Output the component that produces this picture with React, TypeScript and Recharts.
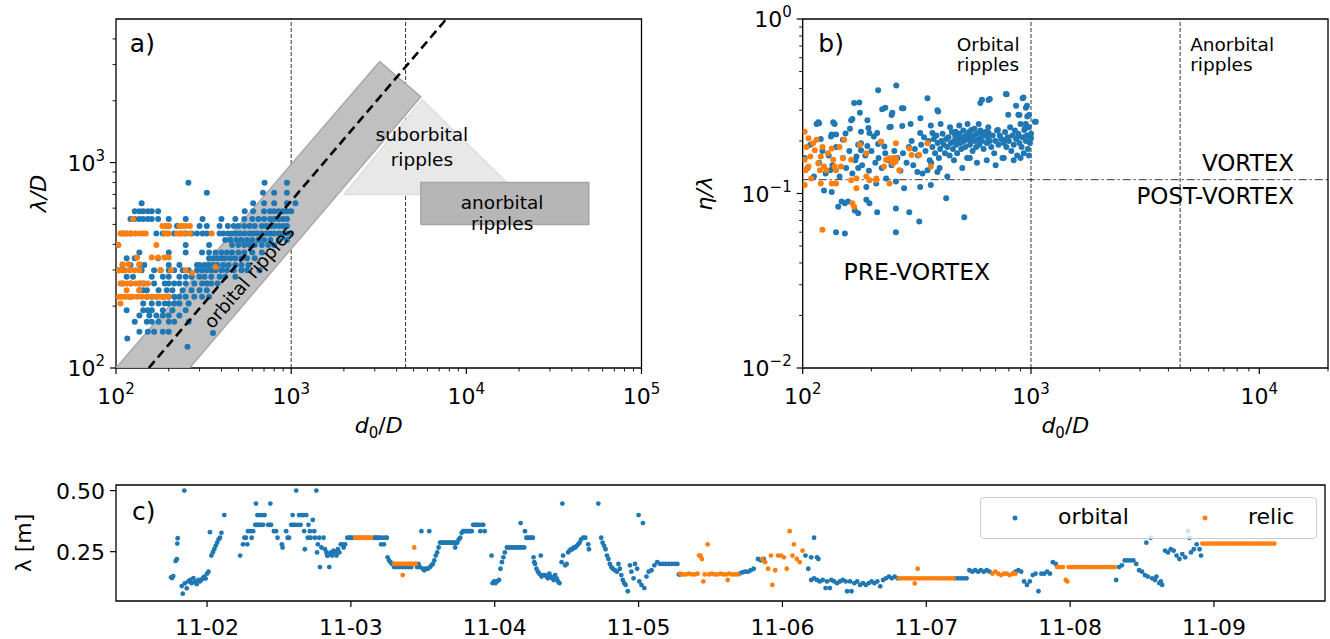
import React from 'react';
import { ScatterChart, Scatter, XAxis, YAxis, ReferenceLine, ReferenceArea, Legend } from 'recharts';

const FONT = '"DejaVu Sans", sans-serif';
const BLUE = '#1f77b4';
const ORANGE = '#ff7f0e';
const INK = '#000000';
const TICK_FONT = 22;
const SUP_FONT = 15;

// ---------------- Panel a: lambda/D vs d0/D ----------------
const aOrbital: [number, number][] = [
  [259, 798], [705, 798], [946, 798],
  [330, 714], [690, 714], [800, 714], [946, 714],
  [140, 634], [607, 634], [700, 634], [800, 634], [946, 634], [1057, 634],
  [128, 580], [136, 580], [143, 580], [152, 580], [160, 580], [174, 580], [543, 580], [607, 580], [700, 580], [758, 580], [800, 580], [850, 580], [900, 580], [946, 580], [1000, 580],
  [121, 531], [128, 531], [136, 531], [143, 531], [152, 531], [160, 531], [174, 531], [200, 531], [250, 531], [312, 531], [400, 531], [480, 531], [540, 531], [600, 531], [650, 531], [700, 531], [758, 531], [800, 531], [850, 531], [900, 531], [946, 531],
  [200, 491], [223, 491], [300, 491], [330, 491], [390, 491], [435, 491], [470, 491], [500, 491], [540, 491], [580, 491], [620, 491], [680, 491], [720, 491], [760, 491], [800, 491], [850, 491], [900, 491], [946, 491],
  [109, 452], [115, 452], [121, 452], [170, 452], [185, 452], [215, 452], [235, 452], [250, 452], [270, 452], [290, 452], [312, 452], [330, 452], [390, 452], [410, 452], [435, 452], [460, 452], [486, 452], [510, 452], [543, 452], [580, 452], [607, 452], [640, 452], [678, 452], [720, 452], [760, 452], [800, 452], [850, 452], [900, 452], [946, 452], [1000, 452],
  [420, 420], [450, 420], [486, 420], [520, 420], [560, 420], [600, 420], [650, 420], [700, 420], [760, 420], [850, 420], [946, 420],
  [103, 397], [250, 397], [340, 397], [460, 397], [500, 397], [540, 397], [580, 397], [620, 397], [680, 397], [740, 397], [800, 397],
  [136, 365], [200, 365], [250, 365], [310, 365], [340, 365], [370, 365], [400, 365], [430, 365], [460, 365], [500, 365], [540, 365], [600, 365], [680, 365],
  [115, 342], [128, 342], [174, 342], [340, 342], [360, 342], [380, 342], [400, 342], [420, 342], [450, 342], [480, 342], [520, 342], [560, 342], [620, 342],
  [109, 317], [121, 317], [136, 317], [145, 317], [200, 317], [230, 317], [290, 317], [300, 317], [320, 317], [340, 317], [360, 317], [380, 317], [410, 317], [440, 317], [480, 317], [520, 317], [570, 317],
  [103, 299], [109, 299], [140, 299], [165, 299], [180, 299], [200, 299], [215, 299], [240, 299], [260, 299], [290, 299], [310, 299], [330, 299], [350, 299], [370, 299], [400, 299], [430, 299], [470, 299], [520, 299], [560, 299], [660, 299],
  [115, 278], [125, 278], [160, 278], [185, 278], [200, 278], [230, 278], [250, 278], [270, 278], [300, 278], [320, 278], [350, 278], [390, 278], [420, 278], [480, 278],
  [109, 258], [121, 258], [136, 258], [143, 258], [165, 258], [190, 258], [200, 258], [215, 258], [230, 258], [250, 258], [280, 258], [310, 258], [330, 258], [350, 258], [380, 258],
  [136, 239], [143, 239], [150, 239], [175, 239], [195, 239], [210, 239], [240, 239], [270, 239], [300, 239], [330, 239],
  [121, 222], [150, 222], [160, 222], [170, 222], [185, 222], [200, 222], [215, 222], [230, 222], [250, 222], [280, 222], [310, 222], [340, 222],
  [143, 206], [160, 206], [175, 206], [190, 206], [200, 206], [215, 206], [230, 206], [260, 206],
  [115, 191], [143, 191], [152, 191], [160, 191], [185, 191], [210, 191], [250, 191],
  [136, 180], [155, 180], [170, 180], [185, 180], [200, 180], [230, 180],
  [128, 168], [150, 168], [160, 168], [175, 168], [200, 168], [215, 168], [260, 168],
  [136, 150], [152, 150], [165, 150], [185, 150], [200, 150], [358, 148],
  [116, 139], [256, 127],
];

const aRelic: [number, number][] = [
  [125, 531],
  [184, 491], [192, 491], [200, 491], [230, 491], [240, 491], [250, 491], [264, 491],
  [106, 452], [110, 452], [115, 452], [121, 452], [128, 452], [136, 452], [143, 452], [148, 452], [189, 452], [195, 452], [200, 452], [223, 452], [232, 452], [245, 452], [264, 452], [352, 452],
  [103, 397], [170, 397],
  [132, 345], [160, 345], [174, 345], [189, 345], [200, 345],
  [109, 320], [118, 320], [136, 320], [370, 310],
  [104, 299], [108, 299], [113, 299], [120, 299], [128, 299], [136, 299], [179, 299], [206, 299], [250, 299], [272, 290],
  [106, 258], [110, 258], [115, 258], [122, 258], [130, 258], [138, 258], [145, 258], [152, 258],
  [115, 239], [136, 239],
  [104, 222], [108, 222], [112, 222], [118, 222], [124, 222], [132, 222], [140, 222], [150, 222], [160, 222], [170, 222], [180, 222], [190, 222], [200, 222],
  [106, 206],
];

// regime shapes (vertices, d0/D, lambda/D)
const aSuborbitalZone: [number, number][] = [[2000, 700], [5600, 2020], [20000, 700], [2000, 700]];
const aOrbitalZone: [number, number][] = [[100, 100], [3200, 3100], [5500, 2090], [263, 100], [100, 100]];
const aAnorbitalZone: [number, number][] = [[5500, 500], [5500, 800], [50000, 800], [50000, 500], [5500, 500]];
const aFit: [number, number][] = [[153.8, 100], [7692, 5000]];
const aLimits = [1000, 4500];

const aNotes = [
  { text: 'a)', x: 120, y: 3450, kind: 'panel' },
  { text: 'suborbital', x: 5580, y: 1270, kind: 'mid' },
  { text: 'ripples', x: 5580, y: 965, kind: 'mid' },
  { text: 'anorbital', x: 16000, y: 595, kind: 'mid' },
  { text: 'ripples', x: 16000, y: 468, kind: 'mid' },
  { text: 'orbital ripples', x: 574, y: 278, kind: 'rot' },
];

const aXTicks = [100, 200, 300, 400, 500, 600, 700, 800, 900, 1000, 2000, 3000, 4000, 5000, 6000, 7000, 8000, 9000, 10000, 20000, 30000, 40000, 50000, 60000, 70000, 80000, 90000, 100000];
const aYTicks = [100, 200, 300, 400, 500, 600, 700, 800, 900, 1000, 2000, 3000, 4000];

// ---------------- Panel b: eta/lambda vs d0/D ----------------
const bOrbital: [number, number][] = [
  [214, 0.39], [257, 0.416], [352, 0.352], [177, 0.332], [223, 0.304], [245, 0.282], [276, 0.308], [392, 0.295],
  [610, 0.345], [660, 0.348], [782, 0.37], [927, 0.355], [960, 0.318], [860, 0.318], [890, 0.282], [980, 0.282], [1050, 0.258],
  [118, 0.253], [136, 0.256], [165, 0.267], [194, 0.237], [243, 0.241], [273, 0.244], [328, 0.27], [192, 0.187], [172, 0.163],
  [180, 0.194], [214, 0.192], [228, 0.186], [154, 0.221], [133, 0.212], [120, 0.205],
  [168, 0.33], [230, 0.31], [247, 0.29], [272, 0.308], [389, 0.30], [600, 0.33], [652, 0.343], [776, 0.372], [919, 0.352],
  [950, 0.31], [881, 0.283], [795, 0.283], [963, 0.276], [1040, 0.258], [115, 0.25], [117, 0.256], [138, 0.25], [178, 0.29],
  [163, 0.263], [192, 0.263], [134, 0.218], [140, 0.218], [150, 0.203], [161, 0.235], [180, 0.226], [180, 0.177], [196, 0.222],
  [205, 0.212], [212, 0.222], [220, 0.198], [240, 0.24], [297, 0.25], [327, 0.222], [370, 0.222], [364, 0.245], [402, 0.25],
  [442, 0.24], [468, 0.226], [485, 0.245], [527, 0.25], [590, 0.25], [547, 0.231], [612, 0.218], [652, 0.222], [716, 0.231],
  [776, 0.203], [881, 0.212], [935, 0.231], [950, 0.25], [1000, 0.207],
  [124, 0.104], [134, 0.102], [143, 0.084], [148, 0.09], [153, 0.088], [158, 0.09], [169, 0.08], [175, 0.077], [190, 0.092],
  [196, 0.088], [212, 0.078], [256, 0.082], [293, 0.078], [324, 0.069], [425, 0.094], [510, 0.073], [140, 0.06], [153, 0.059],
  [256, 0.06], [175, 0.14], [132, 0.136], [190, 0.109], [210, 0.114], [232, 0.122], [256, 0.117], [278, 0.107], [327, 0.109],
  [364, 0.112], [318, 0.133], [352, 0.136], [389, 0.133],
  [300, 0.2], [310, 0.18], [320, 0.165], [330, 0.19], [340, 0.21], [345, 0.175], [355, 0.2], [360, 0.155], [370, 0.185],
  [375, 0.205], [380, 0.17], [385, 0.215], [390, 0.195], [395, 0.16], [400, 0.18], [405, 0.2], [410, 0.22], [415, 0.19],
  [420, 0.17], [425, 0.205], [430, 0.185], [435, 0.21], [440, 0.165], [445, 0.195], [450, 0.225], [455, 0.18], [460, 0.2],
  [465, 0.215], [470, 0.19], [475, 0.17], [480, 0.205], [485, 0.22], [490, 0.195], [495, 0.18], [500, 0.21], [505, 0.23],
  [510, 0.2], [515, 0.185], [520, 0.215], [525, 0.16], [530, 0.205], [535, 0.225], [540, 0.19], [545, 0.21], [550, 0.2],
  [555, 0.175], [560, 0.215], [565, 0.235], [570, 0.2], [575, 0.185], [580, 0.22], [590, 0.205], [595, 0.19], [600, 0.23],
  [610, 0.2], [615, 0.215], [620, 0.18], [630, 0.225], [640, 0.195], [645, 0.21], [650, 0.24], [660, 0.2], [670, 0.185],
  [680, 0.215], [690, 0.17], [700, 0.2], [710, 0.23], [720, 0.19], [730, 0.215], [740, 0.205], [750, 0.16], [760, 0.195],
  [770, 0.225], [780, 0.185], [790, 0.21], [800, 0.2], [810, 0.24], [820, 0.175], [830, 0.215], [840, 0.19], [850, 0.23],
  [860, 0.205], [870, 0.165], [880, 0.22], [890, 0.195], [900, 0.25], [910, 0.185], [920, 0.21], [930, 0.17], [940, 0.235],
  [950, 0.2], [960, 0.215], [970, 0.18], [980, 0.24], [990, 0.195], [1000, 0.22],
  [102, 0.16], [105, 0.14], [108, 0.19], [112, 0.125], [118, 0.15], [122, 0.175], [126, 0.13], [130, 0.165], [135, 0.145],
  [140, 0.185], [145, 0.125], [150, 0.16], [155, 0.14], [160, 0.175], [165, 0.13], [170, 0.155], [175, 0.19], [182, 0.145],
  [188, 0.165], [195, 0.135], [200, 0.175], [208, 0.15], [215, 0.16], [222, 0.14], [230, 0.17], [238, 0.155], [245, 0.145],
  [252, 0.175], [260, 0.16], [268, 0.135], [275, 0.17], [285, 0.15], [292, 0.185],
  [305, 0.145], [335, 0.13], [365, 0.15], [398, 0.14], [430, 0.125], [460, 0.155], [500, 0.14], [540, 0.16], [580, 0.15],
  [640, 0.155], [700, 0.145], [760, 0.16], [840, 0.155], [900, 0.16], [980, 0.165],
];

const bRelic: [number, number][] = [
  [102, 0.226], [106, 0.207], [104, 0.185], [108, 0.163], [102, 0.156], [106, 0.143], [111, 0.194], [113, 0.177], [115, 0.203],
  [117, 0.149], [119, 0.136], [120, 0.163], [122, 0.185], [124, 0.143], [127, 0.136], [129, 0.17], [134, 0.181], [136, 0.156],
  [138, 0.143], [140, 0.136], [145, 0.185], [147, 0.143], [150, 0.159], [152, 0.203], [163, 0.156], [165, 0.088], [168, 0.084],
  [172, 0.107], [178, 0.19], [190, 0.17], [196, 0.119], [210, 0.119], [220, 0.198], [227, 0.143], [232, 0.156], [240, 0.159],
  [248, 0.156], [256, 0.159], [265, 0.136], [240, 0.114], [256, 0.194], [293, 0.181], [300, 0.166], [324, 0.166], [352, 0.194],
  [364, 0.143], [122, 0.062], [102, 0.112], [120, 0.114], [134, 0.114], [140, 0.114], [163, 0.119], [172, 0.122], [190, 0.125],
  [210, 0.122], [103, 0.136], [109, 0.122], [245, 0.155], [250, 0.16], [255, 0.152], [248, 0.148],
];

const bLimits = [1000, 4500];
const bVortexLimit = 0.12;

const bNotes = [
  { text: 'b)', x: 117, y: 0.647, kind: 'panel' },
  { text: 'Orbital', x: 473, y: 0.655, kind: 'left' },
  { text: 'ripples', x: 473, y: 0.505, kind: 'left' },
  { text: 'Anorbital', x: 4980, y: 0.655, kind: 'left' },
  { text: 'ripples', x: 4980, y: 0.505, kind: 'left' },
  { text: 'VORTEX', x: 14200, y: 0.1346, kind: 'bigR' },
  { text: 'POST-VORTEX', x: 14200, y: 0.087, kind: 'bigR' },
  { text: 'PRE-VORTEX', x: 151, y: 0.0319, kind: 'bigL' },
];

const bXTicks = [100, 200, 300, 400, 500, 600, 700, 800, 900, 1000, 2000, 3000, 4000, 5000, 6000, 7000, 8000, 9000, 10000, 20000];
const bYTicks = [0.01, 0.02, 0.03, 0.04, 0.05, 0.06, 0.07, 0.08, 0.09, 0.1, 0.2, 0.3, 0.4, 0.5, 0.6, 0.7, 0.8, 0.9, 1];

// ---------------- Panel c: lambda time series (t = day of November) ----------------
const cOrbital: [number, number][] = [
  [1.75, 0.145], [1.757, 0.142], [1.765, 0.15], [1.782, 0.212], [1.79, 0.219], [1.796, 0.305], [1.793, 0.283], [1.842, 0.5],
  [1.824, 0.109], [1.831, 0.078], [1.845, 0.12], [1.859, 0.10], [1.87, 0.128], [1.882, 0.134], [1.893, 0.121], [1.905, 0.142],
  [1.915, 0.128], [1.928, 0.117], [1.94, 0.134], [1.95, 0.128], [1.96, 0.134], [1.97, 0.141], [1.98, 0.148], [1.99, 0.14],
  [2.0, 0.16], [2.01, 0.168], [2.02, 0.33], [2.03, 0.234], [2.04, 0.247], [2.05, 0.26], [2.06, 0.274], [2.07, 0.287],
  [2.08, 0.30], [2.09, 0.307], [2.10, 0.327], [2.12, 0.40],
  [2.23, 0.234], [2.25, 0.28], [2.26, 0.307], [2.27, 0.307], [2.28, 0.28], [2.285, 0.334], [2.30, 0.334], [2.31, 0.307],
  [2.32, 0.334], [2.335, 0.36], [2.345, 0.36], [2.355, 0.36], [2.365, 0.36], [2.375, 0.36], [2.39, 0.36], [2.34, 0.447],
  [2.35, 0.40], [2.37, 0.40], [2.385, 0.40], [2.40, 0.40], [2.44, 0.447], [2.425, 0.36], [2.435, 0.36], [2.445, 0.36],
  [2.465, 0.334], [2.48, 0.334], [2.49, 0.307], [2.52, 0.28], [2.525, 0.267], [2.55, 0.334], [2.56, 0.307], [2.57, 0.307],
  [2.585, 0.36], [2.595, 0.40], [2.6, 0.36], [2.61, 0.36], [2.62, 0.50], [2.63, 0.36], [2.64, 0.40], [2.65, 0.36],
  [2.66, 0.40], [2.67, 0.40], [2.675, 0.334], [2.68, 0.26], [2.69, 0.40], [2.70, 0.307], [2.705, 0.36], [2.715, 0.334],
  [2.72, 0.307], [2.735, 0.38], [2.745, 0.334], [2.75, 0.307], [2.76, 0.50], [2.765, 0.247], [2.77, 0.28], [2.78, 0.307],
  [2.785, 0.187], [2.795, 0.267], [2.81, 0.307], [2.82, 0.26], [2.83, 0.247], [2.835, 0.234], [2.84, 0.234], [2.85, 0.187],
  [2.86, 0.247], [2.87, 0.234], [2.88, 0.254], [2.89, 0.247], [2.90, 0.234], [2.91, 0.26], [2.92, 0.247], [2.93, 0.28],
  [2.94, 0.28], [2.95, 0.267], [2.96, 0.28], [2.975, 0.307], [2.99, 0.307], [3.0, 0.307], [3.015, 0.307],
  [3.16, 0.307], [3.17, 0.307], [3.18, 0.307], [3.19, 0.307], [3.2, 0.307], [3.21, 0.28], [3.22, 0.307], [3.23, 0.28],
  [3.24, 0.307], [3.25, 0.307], [3.255, 0.227], [3.265, 0.214], [3.275, 0.207], [3.285, 0.20], [3.29, 0.20],
  [3.30, 0.187], [3.32, 0.187], [3.34, 0.187], [3.36, 0.187], [3.38, 0.187], [3.40, 0.187], [3.42, 0.187], [3.45, 0.20],
  [3.46, 0.187], [3.47, 0.20], [3.48, 0.187], [3.49, 0.334], [3.50, 0.18], [3.51, 0.174], [3.52, 0.18], [3.535, 0.18],
  [3.545, 0.334], [3.55, 0.187], [3.56, 0.194], [3.57, 0.20], [3.58, 0.214], [3.59, 0.234], [3.6, 0.247], [3.61, 0.267],
  [3.62, 0.287], [3.63, 0.287], [3.64, 0.287], [3.65, 0.287], [3.66, 0.287], [3.67, 0.287], [3.68, 0.287], [3.69, 0.287],
  [3.70, 0.287], [3.71, 0.287], [3.72, 0.287], [3.725, 0.267], [3.73, 0.287], [3.74, 0.287], [3.75, 0.30], [3.76, 0.307],
  [3.77, 0.327], [3.78, 0.334], [3.79, 0.334], [3.80, 0.334], [3.81, 0.334], [3.82, 0.334], [3.83, 0.334], [3.84, 0.334],
  [3.85, 0.36], [3.86, 0.36], [3.87, 0.36], [3.88, 0.36], [3.89, 0.36], [3.90, 0.334], [3.91, 0.36], [3.92, 0.36], [3.93, 0.334],
  [3.978, 0.234], [3.985, 0.121], [3.995, 0.128], [4.005, 0.121], [4.015, 0.128], [4.03, 0.134], [4.04, 0.18], [4.05, 0.207],
  [4.06, 0.227], [4.07, 0.247], [4.085, 0.267], [4.1, 0.267], [4.115, 0.267], [4.13, 0.267], [4.145, 0.267], [4.16, 0.267],
  [4.18, 0.367], [4.175, 0.267], [4.19, 0.267], [4.205, 0.267], [4.21, 0.334], [4.22, 0.307], [4.23, 0.307], [4.24, 0.307],
  [4.255, 0.307], [4.265, 0.307], [4.27, 0.227], [4.275, 0.207], [4.28, 0.2], [4.29, 0.18], [4.3, 0.168], [4.31, 0.16],
  [4.32, 0.234], [4.325, 0.148], [4.335, 0.154], [4.35, 0.154], [4.36, 0.148], [4.37, 0.141], [4.38, 0.16], [4.39, 0.148],
  [4.4, 0.141], [4.41, 0.134], [4.42, 0.154], [4.43, 0.141], [4.44, 0.128], [4.45, 0.121], [4.47, 0.447], [4.465, 0.207],
  [4.475, 0.234], [4.49, 0.194], [4.5, 0.2], [4.51, 0.247], [4.52, 0.254], [4.53, 0.26], [4.54, 0.26], [4.55, 0.267],
  [4.56, 0.267], [4.57, 0.274], [4.58, 0.28], [4.59, 0.287], [4.6, 0.30], [4.615, 0.307], [4.63, 0.307], [4.65, 0.28],
  [4.655, 0.26], [4.72, 0.447], [4.74, 0.307], [4.75, 0.287], [4.76, 0.274], [4.77, 0.26], [4.78, 0.234], [4.79, 0.22],
  [4.8, 0.2], [4.81, 0.187], [4.82, 0.18], [4.835, 0.174], [4.85, 0.168], [4.86, 0.2], [4.87, 0.18], [4.88, 0.154],
  [4.89, 0.134], [4.9, 0.121], [4.91, 0.114], [4.925, 0.088], [4.94, 0.194], [4.95, 0.168], [4.965, 0.141], [4.975, 0.2],
  [4.99, 0.18], [5.0, 0.40], [5.03, 0.367], [5.005, 0.128], [5.02, 0.114], [5.04, 0.101], [5.055, 0.148], [5.07, 0.168],
  [5.09, 0.174], [5.11, 0.194], [5.13, 0.207], [5.15, 0.2], [5.17, 0.2], [5.19, 0.2], [5.21, 0.2], [5.23, 0.2], [5.25, 0.2],
  [5.27, 0.2], [5.28, 0.157], [5.29, 0.157],
  [5.70, 0.16], [5.72, 0.165], [5.74, 0.168], [5.76, 0.168], [5.78, 0.174], [5.8, 0.18], [5.83, 0.22], [5.85, 0.214], [5.87, 0.22],
  [6.16, 0.234], [6.18, 0.18], [6.2, 0.227], [6.22, 0.307], [6.24, 0.227], [6.25, 0.22],
  [6.2, 0.134], [6.22, 0.141], [6.24, 0.134], [6.26, 0.128], [6.28, 0.134], [6.3, 0.101], [6.31, 0.128], [6.33, 0.101],
  [6.34, 0.134], [6.36, 0.128], [6.38, 0.121], [6.4, 0.128], [6.42, 0.134], [6.44, 0.128], [6.45, 0.088], [6.47, 0.128],
  [6.48, 0.088], [6.5, 0.121], [6.52, 0.128], [6.54, 0.114], [6.56, 0.121], [6.58, 0.114], [6.6, 0.121], [6.62, 0.128],
  [6.64, 0.121], [6.66, 0.128], [6.68, 0.108], [6.7, 0.134], [6.72, 0.141], [6.74, 0.148], [6.76, 0.141], [6.78, 0.148], [6.8, 0.141],
  [7.2, 0.141], [7.22, 0.141], [7.24, 0.141], [7.26, 0.141], [7.28, 0.141], [7.3, 0.174], [7.32, 0.168], [7.34, 0.174],
  [7.36, 0.168], [7.38, 0.174], [7.4, 0.168], [7.42, 0.174], [7.44, 0.168],
  [7.62, 0.168], [7.64, 0.174], [7.66, 0.168], [7.68, 0.128], [7.7, 0.114], [7.72, 0.128], [7.74, 0.154], [7.76, 0.16],
  [7.78, 0.088], [7.8, 0.16], [7.82, 0.16], [7.84, 0.168], [7.86, 0.16], [7.88, 0.207], [7.9, 0.2],
  [8.32, 0.134], [8.34, 0.187], [8.36, 0.194], [8.38, 0.214], [8.4, 0.214], [8.42, 0.214], [8.44, 0.214], [8.46, 0.2],
  [8.48, 0.174], [8.5, 0.168], [8.52, 0.154], [8.53, 0.287], [8.54, 0.148], [8.56, 0.307], [8.57, 0.141], [8.59, 0.134],
  [8.6, 0.148], [8.62, 0.121], [8.63, 0.128], [8.64, 0.114],
  [8.66, 0.254], [8.68, 0.247], [8.7, 0.26], [8.72, 0.254], [8.74, 0.234], [8.76, 0.22], [8.78, 0.24], [8.8, 0.227],
  [8.82, 0.334], [8.83, 0.307], [8.84, 0.247], [8.86, 0.26], [8.88, 0.28], [8.9, 0.26], [8.91, 0.234],
];

const cRelic: [number, number][] = [
  [3.03, 0.307], [3.04, 0.307], [3.05, 0.307], [3.06, 0.307], [3.07, 0.307], [3.08, 0.307], [3.09, 0.307], [3.10, 0.307],
  [3.11, 0.307], [3.12, 0.307], [3.13, 0.307], [3.14, 0.307],
  [3.30, 0.2], [3.31, 0.2], [3.32, 0.2], [3.33, 0.2], [3.34, 0.2], [3.35, 0.2], [3.36, 0.154], [3.37, 0.2], [3.38, 0.2],
  [3.39, 0.2], [3.40, 0.2], [3.41, 0.2], [3.42, 0.2], [3.43, 0.2], [3.44, 0.267], [3.45, 0.2],
  [5.29, 0.16], [5.31, 0.157], [5.33, 0.157], [5.35, 0.16], [5.37, 0.157], [5.39, 0.157], [5.41, 0.16], [5.42, 0.234],
  [5.43, 0.234], [5.44, 0.22], [5.45, 0.128], [5.46, 0.157], [5.48, 0.28], [5.49, 0.157], [5.51, 0.16], [5.53, 0.157],
  [5.55, 0.157], [5.57, 0.16], [5.59, 0.157], [5.61, 0.157], [5.62, 0.134], [5.63, 0.16], [5.65, 0.157], [5.67, 0.157], [5.69, 0.157],
  [5.86, 0.22], [5.88, 0.207], [5.9, 0.18], [5.92, 0.234], [5.93, 0.114], [5.95, 0.174], [5.97, 0.234], [5.99, 0.234],
  [6.01, 0.227], [6.03, 0.18], [6.05, 0.334], [6.07, 0.234], [6.08, 0.28], [6.1, 0.22], [6.12, 0.207], [6.14, 0.254],
  [6.81, 0.141], [6.83, 0.141], [6.85, 0.141], [6.87, 0.141], [6.89, 0.141], [6.92, 0.12], [6.94, 0.18], [6.91, 0.141],
  [6.93, 0.141], [6.95, 0.141], [6.97, 0.141], [6.99, 0.141], [7.01, 0.141], [7.03, 0.141], [7.05, 0.141], [7.07, 0.141],
  [7.09, 0.141], [7.11, 0.141], [7.13, 0.141], [7.15, 0.141], [7.17, 0.141], [7.19, 0.141],
  [7.46, 0.16], [7.48, 0.168], [7.5, 0.16], [7.52, 0.154], [7.54, 0.16], [7.56, 0.16], [7.58, 0.154], [7.6, 0.16], [7.62, 0.16],
  [7.91, 0.187], [7.93, 0.187], [7.95, 0.187], [7.97, 0.134], [7.98, 0.128], [7.99, 0.187], [8.01, 0.187], [8.03, 0.187],
  [8.05, 0.187], [8.07, 0.187], [8.09, 0.187], [8.11, 0.187], [8.13, 0.187], [8.15, 0.187], [8.17, 0.187], [8.19, 0.187],
  [8.21, 0.187], [8.23, 0.187], [8.25, 0.187], [8.27, 0.187], [8.29, 0.187], [8.31, 0.187],
  [8.92, 0.283], [8.94, 0.283], [8.96, 0.283], [8.98, 0.283], [9.0, 0.283], [9.02, 0.283], [9.04, 0.283], [9.06, 0.283],
  [9.08, 0.283], [9.1, 0.283], [9.12, 0.283], [9.14, 0.283], [9.16, 0.283], [9.18, 0.283], [9.2, 0.283], [9.22, 0.283],
  [9.24, 0.283], [9.26, 0.283], [9.28, 0.283], [9.3, 0.283], [9.32, 0.283], [9.34, 0.283], [9.36, 0.283], [9.38, 0.283],
  [9.4, 0.283], [9.42, 0.283],
];

const cDays = [2, 3, 4, 5, 6, 7, 8, 9];
const cDayLabels = ['11-02', '11-03', '11-04', '11-05', '11-06', '11-07', '11-08', '11-09'];
const cYTicks = [0.25, 0.5];
const cYTickLabels = ['0.25', '0.50'];
const cNotes = [{ text: 'c)', x: 1.478, y: 0.38, kind: 'panel' }];

// ---------------- helpers ----------------
const pts = (arr: [number, number][]) => arr.map(([x, y]) => ({ x, y }));
const noShape = () => <g />;
const dot = (color: string, r: number) => (p: any) => <circle cx={p.cx} cy={p.cy} r={r} fill={color} />;

const NOTE_STYLE: Record<string, any> = {
  panel: { size: 25, anchor: 'start' },
  mid: { size: 18.5, anchor: 'middle' },
  rot: { size: 18.5, anchor: 'middle', rotate: -49.6 },
  left: { size: 18.5, anchor: 'start' },
  bigR: { size: 23, anchor: 'end' },
  bigL: { size: 23.5, anchor: 'start' },
};

const noteShape = (p: any) => {
  const n = p.payload;
  const s = NOTE_STYLE[n.kind];
  return (
    <text
      x={p.cx}
      y={p.cy}
      textAnchor={s.anchor}
      dominantBaseline={s.rotate ? 'central' : undefined}
      transform={s.rotate ? `rotate(${s.rotate} ${p.cx} ${p.cy})` : undefined}
      fontFamily={FONT}
      fontSize={s.size}
      fill={INK}
    >
      {n.text}
    </text>
  );
};

const supText = (e: number) => (e < 0 ? '\u2212' + Math.abs(e) : String(e));

const logTickX = (p: any) => {
  const v = p.payload.value;
  const lg = Math.log10(v);
  const e = Math.round(lg);
  const major = Math.abs(lg - e) < 1e-6;
  return (
    <g>
      <line x1={p.x} x2={p.x} y1={p.y} y2={p.y + (major ? 6 : 3.5)} stroke={INK} strokeWidth={major ? 1.2 : 0.9} />
      {major && (
        <text x={p.x} y={p.y + 36} textAnchor="middle" fontFamily={FONT} fontSize={TICK_FONT} fill={INK}>
          10<tspan dy={-10} fontSize={SUP_FONT}>{supText(e)}</tspan>
        </text>
      )}
    </g>
  );
};

const logTickY = (p: any) => {
  const v = p.payload.value;
  const lg = Math.log10(v);
  const e = Math.round(lg);
  const major = Math.abs(lg - e) < 1e-6;
  return (
    <g>
      <line x1={p.x - (major ? 6 : 3.5)} x2={p.x} y1={p.y} y2={p.y} stroke={INK} strokeWidth={major ? 1.2 : 0.9} />
      {major && (
        <text x={p.x - 11} y={p.y + 8} textAnchor="end" fontFamily={FONT} fontSize={TICK_FONT} fill={INK}>
          10<tspan dy={-10} fontSize={SUP_FONT}>{supText(e)}</tspan>
        </text>
      )}
    </g>
  );
};

const dateTick = (p: any) => {
  const i = cDays.indexOf(p.payload.value);
  return (
    <g>
      <line x1={p.x} x2={p.x} y1={p.y} y2={p.y + 6} stroke={INK} strokeWidth={1.2} />
      <text x={p.x} y={p.y + 34} textAnchor="middle" fontFamily={FONT} fontSize={TICK_FONT} fill={INK}>
        {cDayLabels[i]}
      </text>
    </g>
  );
};

const linTickY = (p: any) => {
  const i = cYTicks.indexOf(p.payload.value);
  return (
    <g>
      <line x1={p.x - 6} x2={p.x} y1={p.y} y2={p.y} stroke={INK} strokeWidth={1.2} />
      <text x={p.x - 11} y={p.y + 8} textAnchor="end" fontFamily={FONT} fontSize={TICK_FONT} fill={INK}>
        {cYTickLabels[i]}
      </text>
    </g>
  );
};

const d0Label = (props: any) => {
  const vb = props.viewBox || { x: 0, y: 0, width: 0, height: 0 };
  return (
    <text x={vb.x + vb.width / 2} y={vb.y + 65} textAnchor="middle" fontFamily={FONT} fontSize={22} fill={INK}>
      <tspan fontStyle="italic">d</tspan>
      <tspan fontSize={15} dy={5}>0</tspan>
      <tspan dy={-5}>/</tspan>
      <tspan fontStyle="italic">D</tspan>
    </text>
  );
};

const yLabel = (text: React.ReactNode, dx: number) => (props: any) => {
  const vb = props.viewBox || { x: 0, y: 0, width: 0, height: 0 };
  const cx = vb.x + dx;
  const cy = vb.y + vb.height / 2;
  return (
    <text transform={`translate(${cx},${cy}) rotate(-90)`} textAnchor="middle" fontFamily={FONT} fontSize={22} fill={INK}>
      {text}
    </text>
  );
};

const lineStyle = (stroke: string, fill: string) => ({ stroke, strokeWidth: 1.5, fill, fillOpacity: 1 });

function PanelA() {
  return (
    <ScatterChart width={660} height={450} margin={{ top: 19, right: 18.5, bottom: 0, left: 0 }}>
      <XAxis type="number" dataKey="x" scale="log" domain={[100, 100000]} allowDataOverflow ticks={aXTicks} interval={0}
        tickSize={0} tickMargin={0} tick={logTickX} axisLine={false} height={82} label={{ content: d0Label }} />
      <YAxis type="number" dataKey="y" scale="log" domain={[100, 5000]} allowDataOverflow ticks={aYTicks} interval={0}
        tickSize={0} tickMargin={0} tick={logTickY} axisLine={false} width={116}
        label={{ content: yLabel(<tspan fontStyle="italic">λ/D</tspan>, 46) }} />
      <Scatter data={pts(aSuborbitalZone)} shape={noShape} line={lineStyle('#dddddd', '#e8e8e8')} legendType="none" isAnimationActive={false} />
      <Scatter data={pts(aOrbitalZone)} shape={noShape} line={lineStyle('#a9a9a9', '#c0c0c0')} legendType="none" isAnimationActive={false} />
      <Scatter data={pts(aAnorbitalZone)} shape={noShape} line={lineStyle('#a5a5a5', '#b6b6b6')} legendType="none" isAnimationActive={false} />
      {aLimits.map((v) => (
        <ReferenceLine key={v} x={v} stroke={INK} strokeWidth={0.8} strokeDasharray="4 2" />
      ))}
      <Scatter name="orbital" data={pts(aOrbital)} shape={dot(BLUE, 3)} isAnimationActive={false} />
      <Scatter name="relic" data={pts(aRelic)} shape={dot(ORANGE, 3)} isAnimationActive={false} />
      <Scatter data={pts(aFit)} shape={noShape} line={{ stroke: INK, strokeWidth: 2.6, strokeDasharray: '9 5' }} legendType="none" isAnimationActive={false} />
      <Scatter data={aNotes} shape={noteShape} legendType="none" isAnimationActive={false} />
      <ReferenceArea x1={100} x2={100000} y1={100} y2={5000} fill="none" fillOpacity={0} stroke={INK} strokeWidth={1.3} ifOverflow="visible" />
    </ScatterChart>
  );
}

function PanelB() {
  return (
    <ScatterChart width={670} height={450} margin={{ top: 19, right: 2, bottom: 0, left: 0 }}>
      <XAxis type="number" dataKey="x" scale="log" domain={[100, 20000]} allowDataOverflow ticks={bXTicks} interval={0}
        tickSize={0} tickMargin={0} tick={logTickX} axisLine={false} height={82} label={{ content: d0Label }} />
      <YAxis type="number" dataKey="y" scale="log" domain={[0.01, 1]} allowDataOverflow ticks={bYTicks} interval={0}
        tickSize={0} tickMargin={0} tick={logTickY} axisLine={false} width={142.7}
        label={{ content: yLabel(<tspan fontStyle="italic">η/λ</tspan>, 52) }} />
      {bLimits.map((v) => (
        <ReferenceLine key={v} x={v} stroke={INK} strokeWidth={0.8} strokeDasharray="4 2" />
      ))}
      <ReferenceLine y={bVortexLimit} stroke={INK} strokeWidth={0.8} strokeDasharray="8 3 2 3" />
      <Scatter name="orbital" data={pts(bOrbital)} shape={dot(BLUE, 3)} isAnimationActive={false} />
      <Scatter name="relic" data={pts(bRelic)} shape={dot(ORANGE, 3)} isAnimationActive={false} />
      <Scatter data={bNotes} shape={noteShape} legendType="none" isAnimationActive={false} />
      <ReferenceArea x1={100} x2={20000} y1={0.01} y2={1} fill="none" fillOpacity={0} stroke={INK} strokeWidth={1.3} ifOverflow="visible" />
    </ScatterChart>
  );
}

const legendContent = (props: any) => {
  const items = (props.payload || []).filter((e: any) => e.value === 'orbital' || e.value === 'relic');
  const lefts = [[34, 77], [224, 267]];
  return (
    <div style={{ position: 'relative', width: 335, height: 40, border: '1px solid #cccccc', borderRadius: 4,
      background: 'rgba(255,255,255,0.8)', fontFamily: FONT, fontSize: 22, color: INK }}>
      {items.map((e: any, i: number) => (
        <React.Fragment key={e.value}>
          <svg style={{ position: 'absolute', left: lefts[i][0] - 4, top: 16 }} width={8} height={8}>
            <circle cx={4} cy={4} r={2.5} fill={e.value === 'relic' ? ORANGE : BLUE} />
          </svg>
          <span style={{ position: 'absolute', left: lefts[i][1], top: 6, lineHeight: '26px' }}>{e.value}</span>
        </React.Fragment>
      ))}
    </div>
  );
};

function PanelC() {
  return (
    <ScatterChart width={1330} height={189} margin={{ top: 35, right: 5, bottom: 0, left: 0 }}>
      <XAxis type="number" dataKey="x" domain={[1.367, 9.772]} allowDataOverflow ticks={cDays} interval={0}
        tickSize={0} tickMargin={0} tick={dateTick} axisLine={false} height={38} />
      <YAxis type="number" dataKey="y" domain={[0.048, 0.523]} allowDataOverflow ticks={cYTicks} interval={0}
        tickSize={0} tickMargin={0} tick={linTickY} axisLine={false} width={116}
        label={{ content: yLabel(<tspan>λ [m]</tspan>, 31) }} />
      <Scatter name="orbital" data={pts(cOrbital)} shape={dot(BLUE, 2.4)} isAnimationActive={false} />
      <Scatter name="relic" data={pts(cRelic)} shape={dot(ORANGE, 2.4)} isAnimationActive={false} />
      <Scatter data={cNotes} shape={noteShape} legendType="none" isAnimationActive={false} />
      <ReferenceArea x1={1.367} x2={9.772} y1={0.048} y2={0.523} fill="none" fillOpacity={0} stroke={INK} strokeWidth={1.3} ifOverflow="visible" />
      <Legend layout="vertical" align="center" verticalAlign="middle"
        wrapperStyle={{ left: 980, top: 47, width: 337, height: 42 }} content={legendContent} />
    </ScatterChart>
  );
}

export default function App() {
  return (
    <div style={{ position: 'absolute', left: 0, top: 0, width: 1330, height: 639, background: '#ffffff', overflow: 'hidden' }}>
      <div style={{ position: 'absolute', left: 0, top: 0 }}><PanelA /></div>
      <div style={{ position: 'absolute', left: 660, top: 0 }}><PanelB /></div>
      <div style={{ position: 'absolute', left: 0, top: 450 }}><PanelC /></div>
    </div>
  );
}
